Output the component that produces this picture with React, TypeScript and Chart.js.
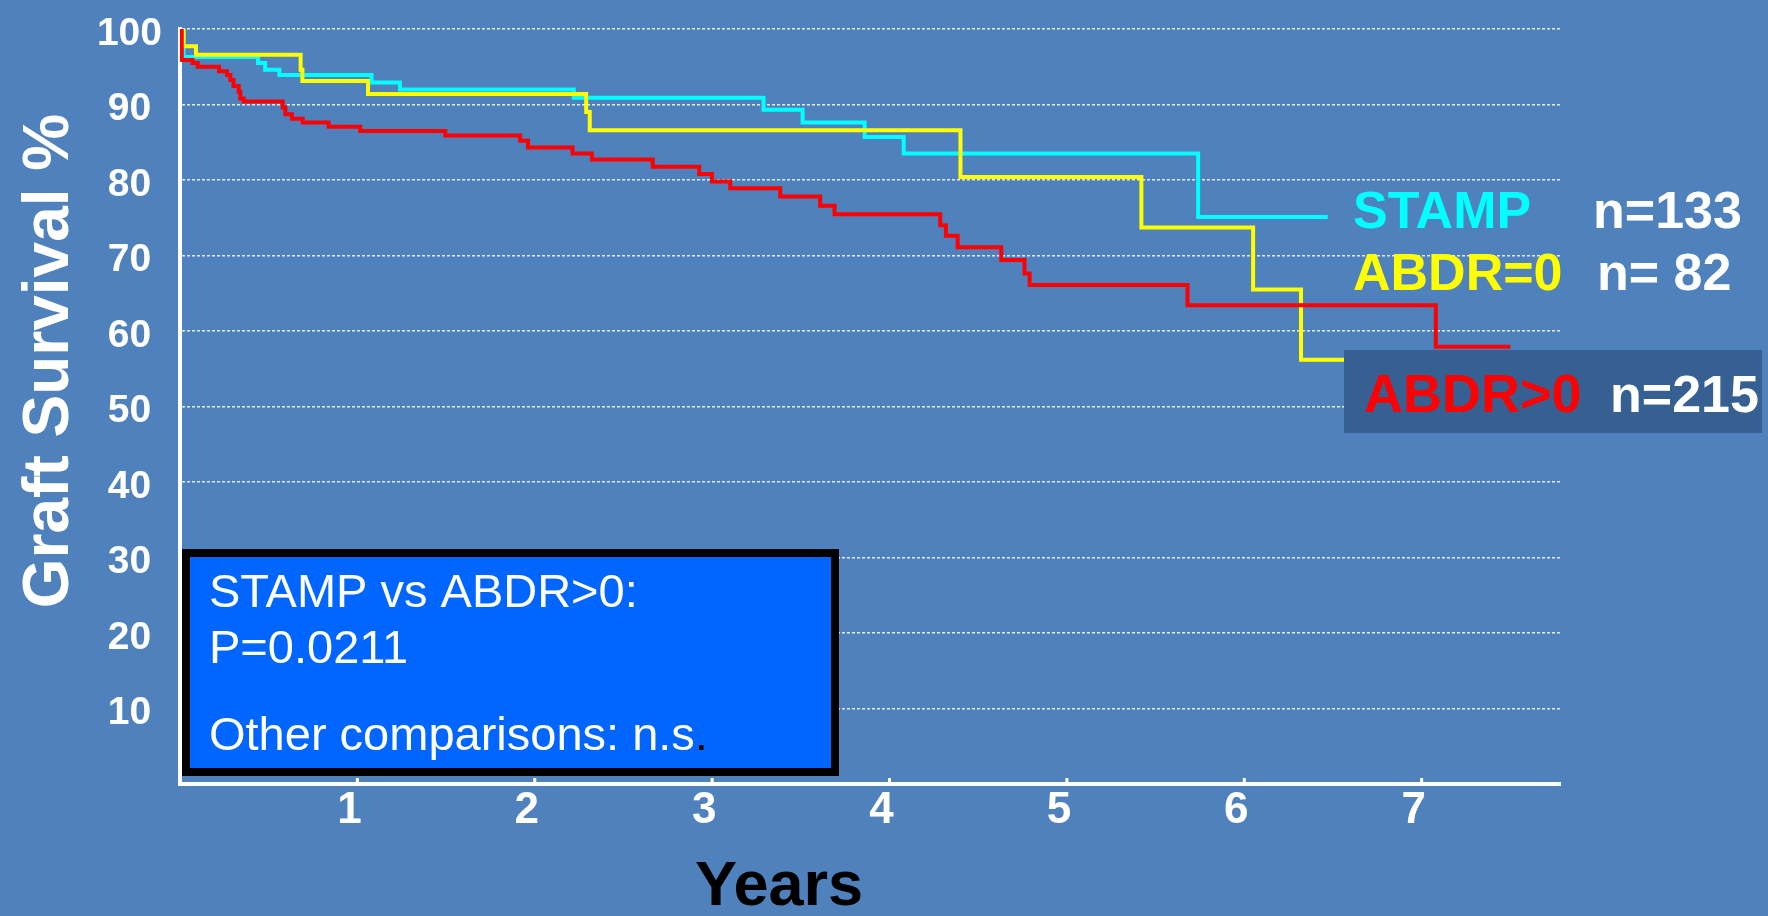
import React, { useEffect, useRef } from "react";
import { Chart, registerables } from "chart.js";

Chart.register(...registerables);

// ---- Data ----
const stampYears = [0, 0.02, 0.44, 0.48, 0.56, 1.08, 1.24, 2.22, 3.29, 3.51, 3.86, 4.08, 5.74, 6.47];
const stampSurvival = [100, 96.3, 95.5, 94.6, 93.9, 92.9, 92.0, 90.9, 89.3, 87.6, 85.7, 83.5, 75.1, 75.1];

const abdr0Years = [0, 0.02, 0.09, 0.68, 0.69, 1.06, 2.29, 2.31, 4.4, 5.42, 6.05, 6.32, 6.7];
const abdr0Survival = [100, 97.7, 96.6, 94.6, 93.1, 91.4, 89.0, 86.6, 80.4, 73.7, 65.5, 56.2, 56.2];

const abdrGt0Years = [
  0, 0.01, 0.07, 0.1, 0.22, 0.265, 0.284, 0.302, 0.331, 0.34, 0.359, 0.579, 0.594, 0.631, 0.692, 0.838,
  1.016, 1.496, 1.918, 1.962, 2.213, 2.322, 2.665, 2.927, 2.999, 3.102, 3.384, 3.609, 3.69, 4.286, 4.318,
  4.384, 4.63, 4.761, 4.79, 5.68, 7.08, 7.5,
];
const abdrGt0Survival = [
  100, 95.9, 95.5, 95.0, 94.4, 93.9, 93.25, 92.45, 91.7, 90.8, 90.4, 89.6, 88.7, 88.1, 87.6, 87.05,
  86.5, 85.9, 85.2, 84.3, 83.5, 82.7, 81.75, 80.8, 79.8, 78.9, 77.8, 76.6, 75.45, 74.0, 72.6,
  71.1, 69.4, 67.6, 66.1, 63.4, 57.9, 57.9,
];

const seriesNames = ["STAMP", "ABDR=0", "ABDR>0"];
const seriesCounts = ["n=133", "n= 82", "n=215"];
const seriesColors = ["#00FFFF", "#FFFF00", "#FF0000"];

const xTickValues = [1, 2, 3, 4, 5, 6, 7];
const xMin = 0;
const xMax = 7.78;
const yMin = 0;
const yMax = 100;
const yStep = 10;

const xTitle = "Years";
const yTitle = "Graft Survival %";
const noteLines = ["STAMP vs ABDR>0:", "P=0.0211", "Other comparisons: n.s"];

const W = 1768;
const H = 916;
const SANS = "'Liberation Sans', Arial, Helvetica, sans-serif";
const NARROW = "'Liberation Sans Narrow', 'Arial Narrow', 'Liberation Sans', Arial, sans-serif";

function toPoints(xs: number[], ys: number[]) {
  return xs.map((x, i) => ({ x, y: ys[i] }));
}

const overlayPlugin = {
  id: "overlay",
  beforeDraw(chart: any) {
    const ctx = chart.ctx;
    ctx.save();
    ctx.fillStyle = "#4F81BD";
    ctx.fillRect(0, 0, chart.width, chart.height);
    ctx.restore();
  },
  afterDraw(chart: any) {
    const ctx = chart.ctx as CanvasRenderingContext2D;
    const { bottom } = chart.chartArea;
    const xs = chart.scales.x;
    ctx.save();

    // small tick marks above x axis
    ctx.fillStyle = "#FFFFFF";
    for (const v of xTickValues) {
      const px = xs.getPixelForValue(v);
      ctx.fillRect(px - 1.5, bottom - 6, 3, 5);
    }

    // y axis title
    ctx.save();
    ctx.translate(68, 361);
    ctx.rotate(-Math.PI / 2);
    ctx.font = `bold 64px ${SANS}`;
    ctx.fillStyle = "#FFFFFF";
    ctx.textAlign = "center";
    ctx.textBaseline = "alphabetic";
    ctx.fillText(yTitle, 0, 0);
    ctx.restore();

    // x axis title
    ctx.font = `bold 63px ${SANS}`;
    ctx.fillStyle = "#000000";
    ctx.textAlign = "center";
    ctx.textBaseline = "alphabetic";
    ctx.fillText(xTitle, 779, 905);

    // legend labels
    ctx.textAlign = "left";
    ctx.font = `bold 52px ${SANS}`;
    ctx.fillStyle = seriesColors[0];
    ctx.fillText(seriesNames[0], 1353, 228);
    ctx.fillStyle = "#FFFFFF";
    ctx.fillText(seriesCounts[0], 1593, 228);

    ctx.fillStyle = seriesColors[1];
    ctx.fillText(seriesNames[1], 1353, 290);
    ctx.fillStyle = "#FFFFFF";
    ctx.fillText(seriesCounts[1], 1597, 290);

    ctx.fillStyle = "#366092";
    ctx.fillRect(1344, 350, 418, 83);
    ctx.font = `bold 54px ${SANS}`;
    ctx.fillStyle = seriesColors[2];
    ctx.fillText(seriesNames[2], 1364, 412);
    ctx.font = `bold 52px ${SANS}`;
    ctx.fillStyle = "#FFFFFF";
    ctx.fillText(seriesCounts[2], 1610, 412);

    // annotation box
    ctx.fillStyle = "#0066FF";
    ctx.fillRect(182, 549, 657, 227);
    ctx.strokeStyle = "#000000";
    ctx.lineWidth = 8;
    ctx.strokeRect(186, 553, 649, 219);
    ctx.font = `47px ${SANS}`;
    ctx.fillStyle = "#FFFFFF";
    ctx.fillText(noteLines[0], 209, 607);
    ctx.fillText(noteLines[1], 209, 663);
    ctx.fillText(noteLines[2], 209, 750);
    const w = ctx.measureText(noteLines[2]).width;
    ctx.fillStyle = "#000000";
    ctx.fillText(".", 209 + w, 750);

    ctx.restore();
  },
};

export default function App() {
  const canvasRef = useRef<HTMLCanvasElement | null>(null);

  useEffect(() => {
    document.body.style.margin = "0";
    document.body.style.background = "#4F81BD";
    const canvas = canvasRef.current;
    if (!canvas) return;
    const chart = new Chart(canvas, {
      type: "line",
      data: {
        datasets: [
          {
            label: seriesNames[2],
            data: toPoints(abdrGt0Years, abdrGt0Survival),
            borderColor: seriesColors[2],
            borderWidth: 4,
            pointRadius: 0,
            stepped: "before",
            fill: false,
          },
          {
            label: seriesNames[1],
            data: toPoints(abdr0Years, abdr0Survival),
            borderColor: seriesColors[1],
            borderWidth: 4,
            pointRadius: 0,
            stepped: "before",
            fill: false,
          },
          {
            label: seriesNames[0],
            data: toPoints(stampYears, stampSurvival),
            borderColor: seriesColors[0],
            borderWidth: 4,
            pointRadius: 0,
            stepped: "before",
            fill: false,
          },
        ],
      },
      options: {
        animation: false,
        responsive: false,
        devicePixelRatio: 1,
        layout: { padding: { left: 0, top: 29, right: W - 1560, bottom: 0 } },
        plugins: {
          legend: { display: false },
          tooltip: { enabled: false },
          title: { display: false },
        },
        scales: {
          x: {
            type: "linear",
            min: xMin,
            max: xMax,
            grid: { display: false, drawTicks: false },
            border: { display: true, color: "#FFFFFF", width: 4 },
            ticks: {
              stepSize: 1,
              includeBounds: false,
              autoSkip: false,
              maxRotation: 0,
              padding: 0,
              labelOffset: -8,
              color: "#FFFFFF",
              font: { family: NARROW, size: 44, weight: "bold" },
              callback: (v: any) => (v === 0 ? "" : String(v)),
            },
            afterFit: (scale: any) => {
              scale.height = H - 784;
            },
          },
          y: {
            type: "linear",
            min: yMin,
            max: yMax,
            grid: {
              color: "rgba(255,255,255,0.85)",
              lineWidth: 1.5,
              drawTicks: true,
              tickLength: 18,
              tickColor: "rgba(0,0,0,0)",
            },
            border: { display: true, color: "#FFFFFF", width: 4, dash: [3, 2] },
            ticks: {
              stepSize: yStep,
              autoSkip: false,
              padding: 0,
              crossAlign: "center",
              labelOffset: 5,
              color: "#FFFFFF",
              font: { family: SANS, size: 39, weight: "bold" },
              callback: (v: any) => (v === 0 ? "" : String(v)),
            },
            afterFit: (scale: any) => {
              scale.width = 180;
            },
          },
        },
      },
      plugins: [overlayPlugin],
    } as any);
    return () => chart.destroy();
  }, []);

  return (
    <div style={{ position: "fixed", left: 0, top: 0, width: W, height: H, background: "#4F81BD" }}>
      <canvas ref={canvasRef} width={W} height={H} style={{ display: "block", width: W, height: H }} />
    </div>
  );
}
